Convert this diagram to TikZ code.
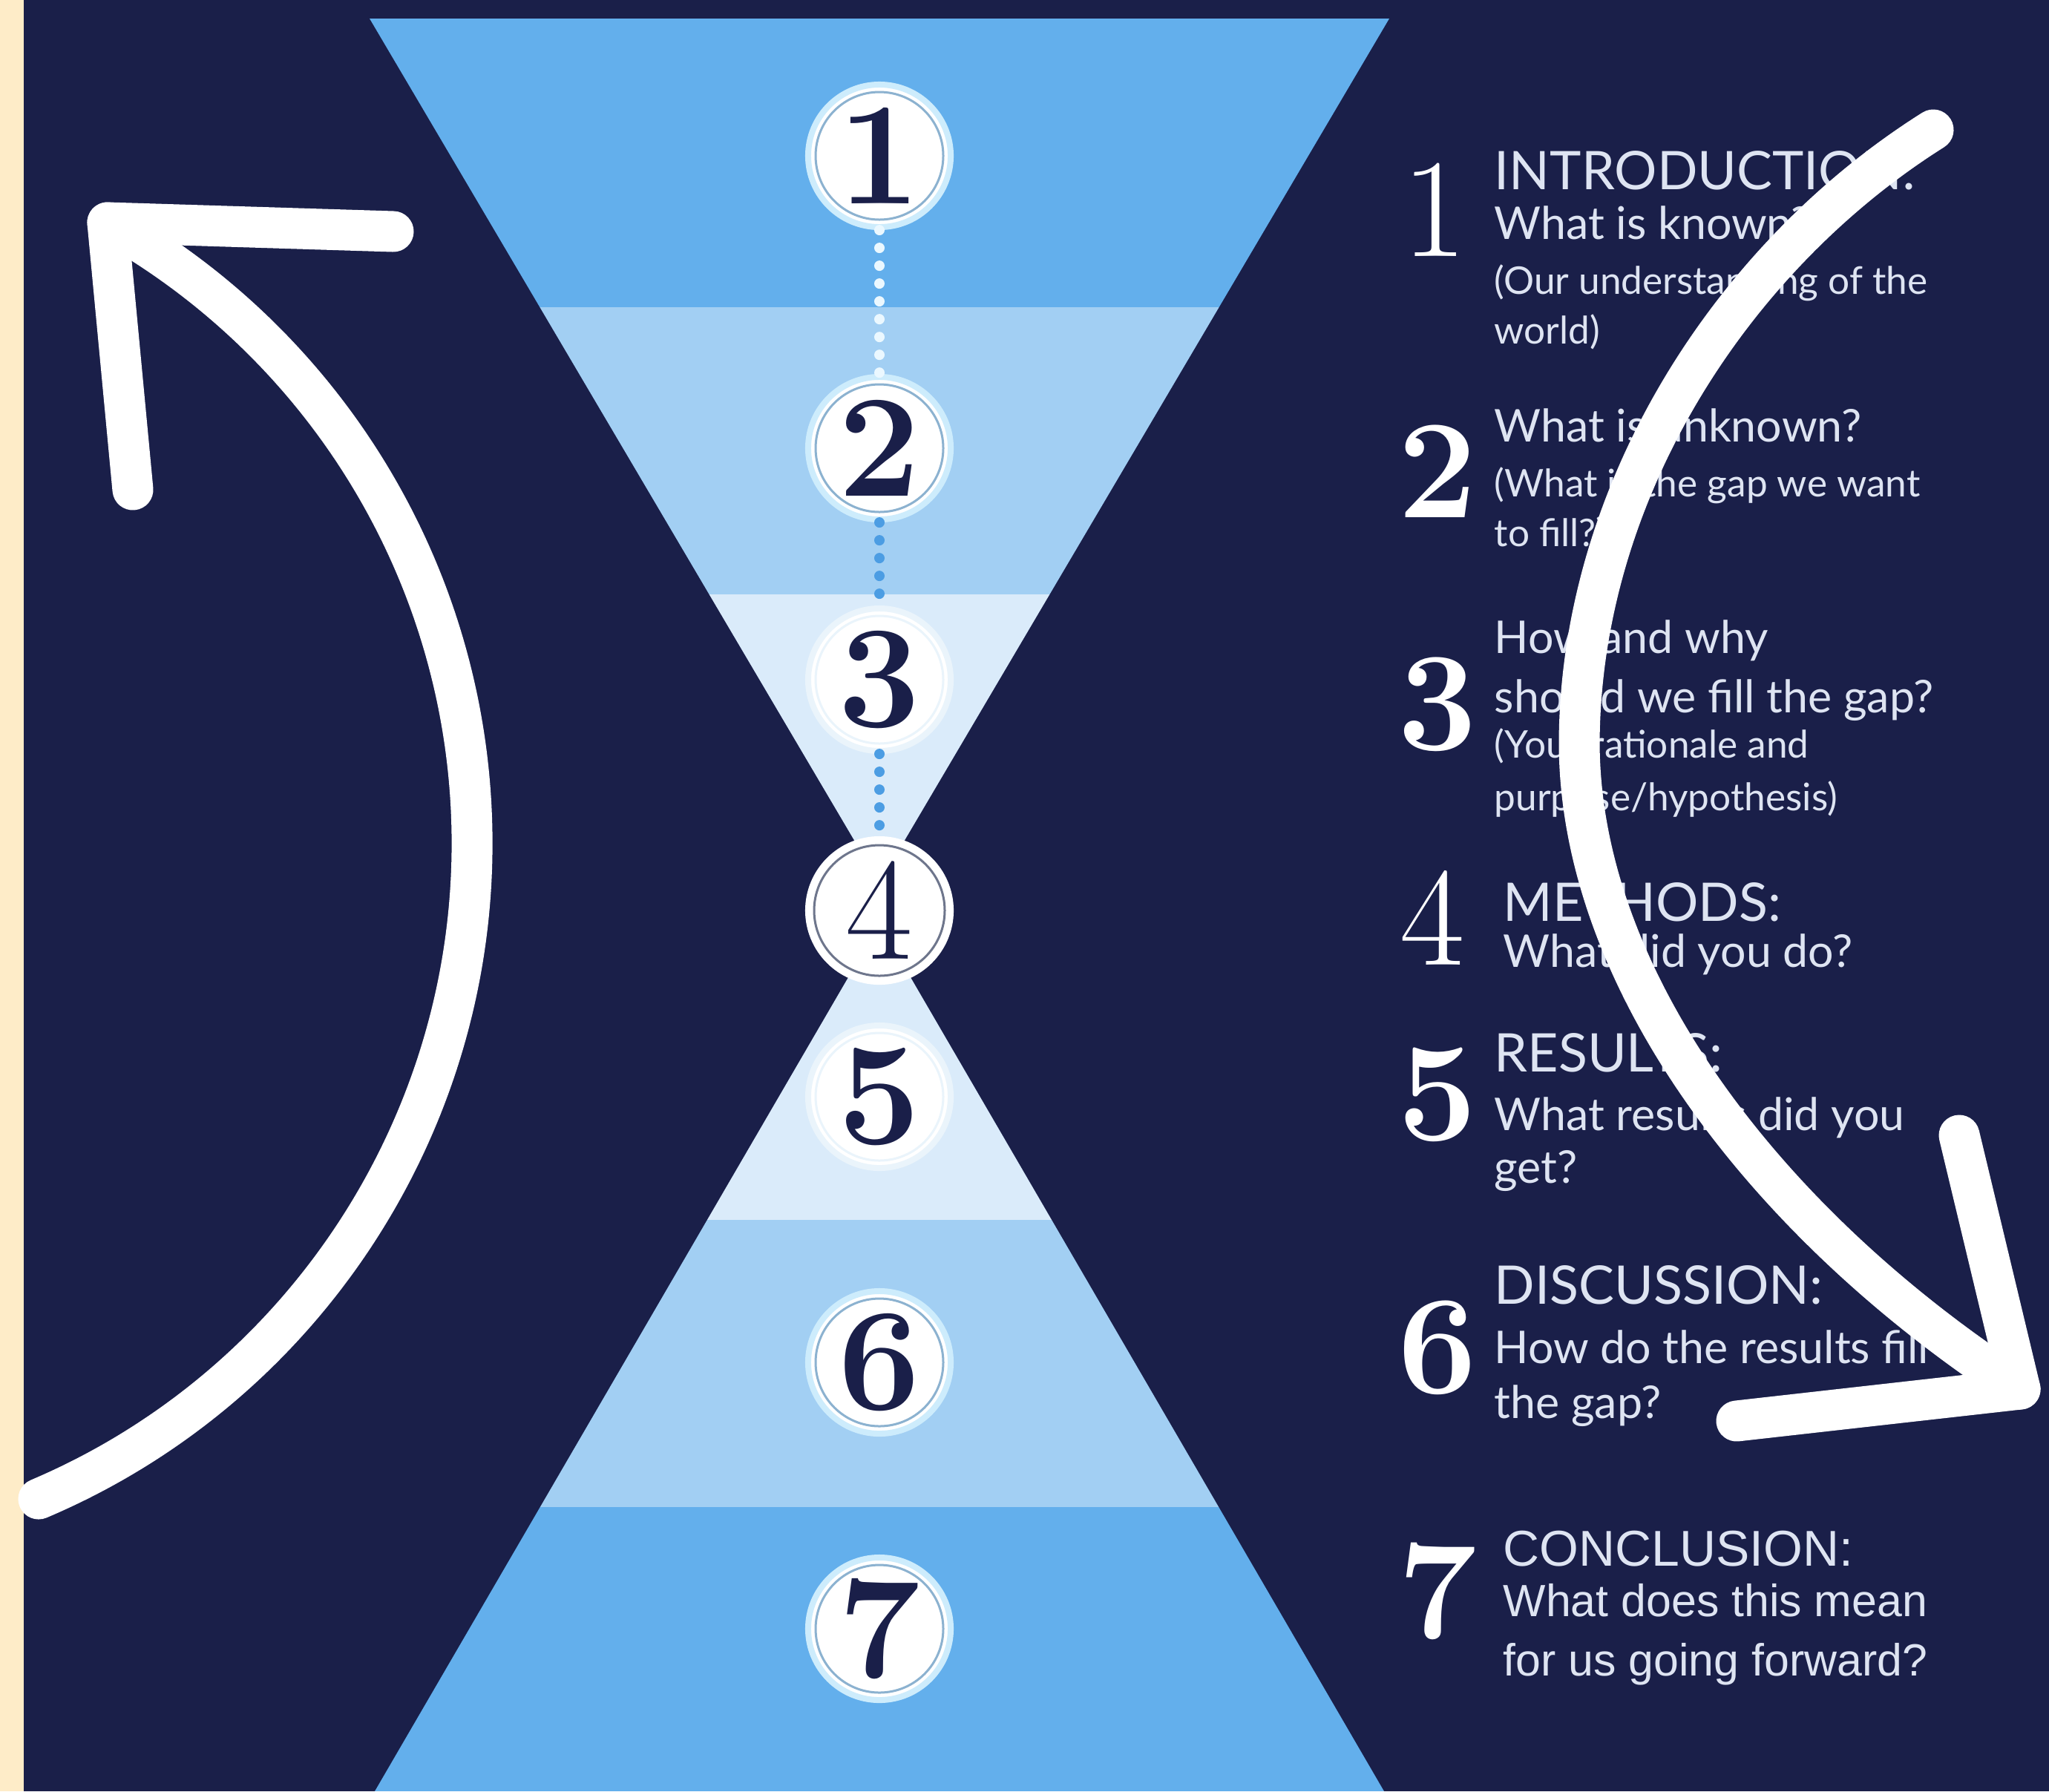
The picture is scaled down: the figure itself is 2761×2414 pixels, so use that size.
\documentclass[tikz,border=0pt]{standalone}
\usepackage{fontspec}
\usepackage{tikz}
\newfontfamily\lato{Lato}
\newfontfamily\arialish{Liberation Sans}
\definecolor{navy}{RGB}{26,31,73}
\definecolor{cream}{RGB}{254,236,200}
\definecolor{bandmid}{RGB}{99,175,236}
\definecolor{bandlt}{RGB}{162,207,243}
\definecolor{bandpale}{RGB}{218,235,250}
\definecolor{txt}{RGB}{222,228,242}
\definecolor{ringhalo}{RGB}{205,236,252}
\definecolor{ringline}{RGB}{140,178,208}
\definecolor{ringfaint}{RGB}{234,244,251}
\definecolor{ringgrey}{RGB}{110,118,140}
\definecolor{dotw}{RGB}{235,248,255}
\definecolor{dotb}{RGB}{76,157,227}
\tikzset{
  numc/.style={circle,fill=white,draw=ringhalo,line width=0.08cm,minimum size=1.92cm,
               inner sep=0pt,text=navy,font=\fontsize{56}{56}\selectfont\bfseries},
  numcf/.style={numc,draw=ringfaint},
  inring/.style={draw=ringline,line width=0.03cm},
  inringf/.style={draw=ringfaint,line width=0.03cm},
  bignum/.style={text=white,inner sep=0pt,font=\fontsize{54}{54}\selectfont\bfseries},
  bignuml/.style={bignum,font=\fontsize{54}{54}\selectfont},
  head/.style={anchor=base west,inner sep=0pt,text=txt,font=\lato\fontsize{20.4}{24}\selectfont},
  ques/.style={head,font=\lato\fontsize{17.3}{21}\selectfont},
  paren/.style={head,font=\lato\fontsize{14.6}{18}\selectfont},
  headc/.style={head,font=\arialish\fontsize{19.3}{23}\selectfont},
  quesc/.style={head,font=\arialish\fontsize{17.3}{20}\selectfont},
  dotlw/.style={draw=dotw,line width=0.14cm,line cap=round,dash pattern=on 0pt off 0.24cm},
  dotlb/.style={dotlw,draw=dotb},
  sweep/.style={draw=white,line width=0.55cm,line cap=round,line join=round},
}
\begin{document}
\begin{tikzpicture}[x=0.01cm,y=-0.01cm]
  \useasboundingbox (0,0) rectangle (2761,2414);
  \fill[navy] (0,0) rectangle (2761,2414);
  \fill[cream] (0,0) rectangle (32,2414);

  % upper half of the hourglass
  \begin{scope}
    \clip (498,25) -- (1872,25) -- (1185,1190) -- cycle;
    \fill[bandmid]  (400,0)   rectangle (2000,414);
    \fill[bandlt]   (400,414) rectangle (2000,801);
    \fill[bandpale] (400,801) rectangle (2000,1300);
  \end{scope}
  % lower half
  \begin{scope}
    \clip (1185,1245) -- (1865,2414) -- (505,2414) -- cycle;
    \fill[bandpale] (400,1200) rectangle (2000,1644);
    \fill[bandlt]   (400,1644) rectangle (2000,2031);
    \fill[bandmid]  (400,2031) rectangle (2000,2414);
  \end{scope}

  % numbered discs
  \foreach \n/\y in {1/210,2/604,6/1836,7/2195}
    \node[numc] (c\n) at (1185,\y) {\n};
  \foreach \n/\y in {3/916,5/1478}
    \node[numcf] (c\n) at (1185,\y) {\n};
  \node[numc,draw=white,font=\fontsize{56}{56}\selectfont] (c4) at (1185,1227) {4};
  \foreach \n in {1,2,6,7}
    \draw[inring] (c\n.center) circle (86);
  \foreach \n in {3,5}
    \draw[inringf] (c\n.center) circle (86);
  \draw[draw=ringgrey,line width=0.03cm] (c4.center) circle (88);

  \draw[dotlw] (c1) -- (c2);
  \draw[dotlb] (c2) -- (c3);
  \draw[dotlb] (c3) -- (c4);

  % numbers of the right column
  \foreach \n/\y in {2/635,3/949,5/1475,6/1816,7/2144}
    \node[bignum] (r\n) at (1937,\y) {\n};
  \node[bignuml] (r1) at (1933,283) {1};
  \node[bignuml] (r4) at (1930,1237) {4};

  % texts
  \foreach \n/\x/\y/\t in {1/2013/255/INTRODUCTION:,4/2025/1241/METHODS:,
                           5/2013/1444/RESULTS:,6/2013/1757/DISCUSSION:}
    \node[head] (h\n) at (\x,\y) {\t};
  \foreach \n/\x/\y/\t in {1a/2013/322/What is known?,2a/2013/595/What is unknown?,
                           3a/2013/880/How and why,3b/2013/960/should we fill the gap?,
                           4a/2025/1303/What did you do?,5a/2013/1523/What results did you,
                           5b/2013/1594/get?,6a/2013/1837/How do the results fill,
                           6b/2013/1911/the gap?}
    \node[ques] (q\n) at (\x,\y) {\t};
  \foreach \n/\y/\t in {1b/396/(Our understanding of the,1c/463/world),
                        2b/669/(What is the gap we want,2c/736/to fill?),
                        3c/1021/(Your rationale and,3d/1092/{purpose/hypothesis)}}
    \node[paren] (p\n) at (2013,\y) {\t};
  \node[headc] (h7)  at (2025,2110) {CONCLUSION:};
  \node[quesc] (q7a) at (2025,2178) {What does this mean};
  \node[quesc] (q7b) at (2025,2258) {for us going forward?};

  % the two hand drawn arrows
  \coordinate (ltip) at (145,300);
  \coordinate (rtip) at (2722,1872);
  \draw[sweep] (52,2020) .. controls (401,1872) and (631,1529) .. (636,1150)
    .. controls (641,798) and (452,472) .. (ltip);
  \draw[sweep] (530,312) -- (ltip) -- (179,660);
  \draw[sweep] (2605,175) .. controls (2335,345) and (2130,660) .. (2128,1000)
    .. controls (2128,1320) and (2380,1650) .. (rtip);
  \draw[sweep] (2640,1530) -- (rtip) -- (2340,1915);
\end{tikzpicture}
\end{document}
